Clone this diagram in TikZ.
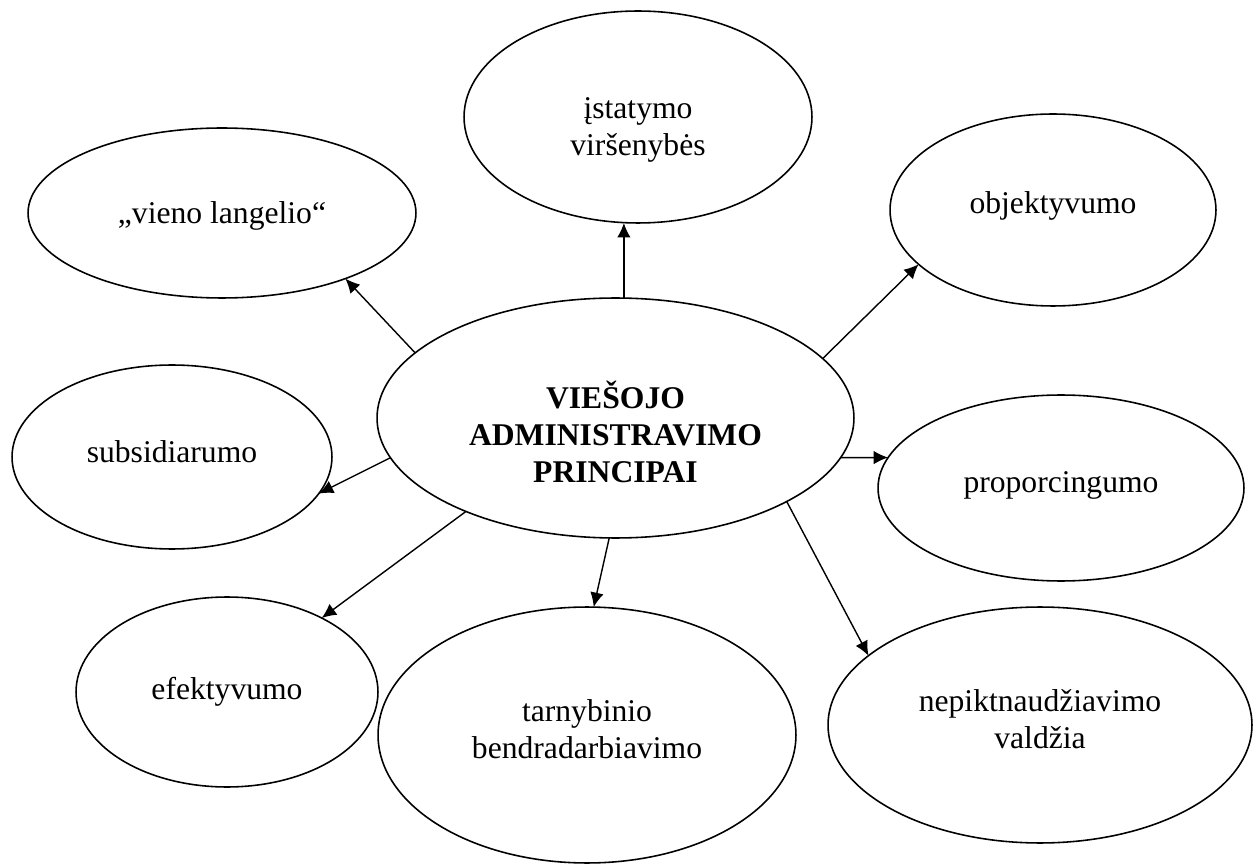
\documentclass[tikz,border=0pt]{standalone}
\usepackage{fontspec}
\setmainfont{Liberation Serif}
\usetikzlibrary{arrows.meta, shapes.geometric}

\begin{document}
\begin{tikzpicture}[
    x=0.02cm, y=-0.02cm,
    >={Latex[length=2.9mm,width=2.7mm]},
    principle/.style={
        draw,
        ellipse,
        line width=0.9pt,
        inner sep=0pt,
        outer sep=0pt
    },
    caption/.style={
        align=center,
        font=\fontsize{18}{21}\selectfont
    },
    link/.style={->, line width=0.8pt}
]
\useasboundingbox (0,0) rectangle (1254,864);

\node[principle, minimum width=9.54cm, minimum height=4.8cm,
      label={[caption, font=\fontsize{18}{21}\selectfont\bfseries, yshift=-0.28cm]center:{VIEŠOJO\\ADMINISTRAVIMO\\PRINCIPAI}}] (main) at (615.5,418) {};
\node[principle, minimum width=6.96cm, minimum height=4.24cm,
      label={[caption, yshift=-0.26cm]center:{įstatymo\\viršenybės}}] (law) at (638,117) {};
\node[principle, minimum width=7.76cm, minimum height=3.4cm,
      label={[caption, yshift=-0.06cm]center:{„vieno langelio“}}] (window) at (222,213) {};
\node[principle, minimum width=6.52cm, minimum height=3.84cm,
      label={[caption, yshift=0.08cm]center:objektyvumo}] (object) at (1053,210) {};
\node[principle, minimum width=6.4cm, minimum height=3.68cm,
      label={[caption, yshift=0.1cm]center:subsidiarumo}] (subsid) at (172,457) {};
\node[principle, minimum width=7.32cm, minimum height=3.72cm,
      label={[caption, yshift=0.06cm]center:proporcingumo}] (propor) at (1061,488) {};
\node[principle, minimum width=6.04cm, minimum height=3.8cm,
      label={[caption]center:efektyvumo}] (effect) at (227,692) {};
\node[principle, minimum width=8.36cm, minimum height=5.12cm,
      label={[caption, yshift=0.12cm]center:{tarnybinio\\bendradarbiavimo}}] (service) at (587,735) {};
\node[principle, minimum width=8.48cm, minimum height=4.72cm,
      label={[caption, yshift=0.12cm]center:{nepiktnaudžiavimo\\valdžia}}] (power) at (1040,725) {};

\draw[link] (main.86) -- (main.86 |- law.south);
\draw[link] (main.162) -- (window.-28);
\draw[link] (main.16) -- (object.202);
\draw[link] (main.-10) -- (propor.170);
\draw[link] (main.190) -- (subsid.-14);
\draw[link] (main.212) -- (effect.38);
\draw[link] (main.267) -- (service.87);
\draw[link] (main.-26) -- (power.158);
\end{tikzpicture}
\end{document}
